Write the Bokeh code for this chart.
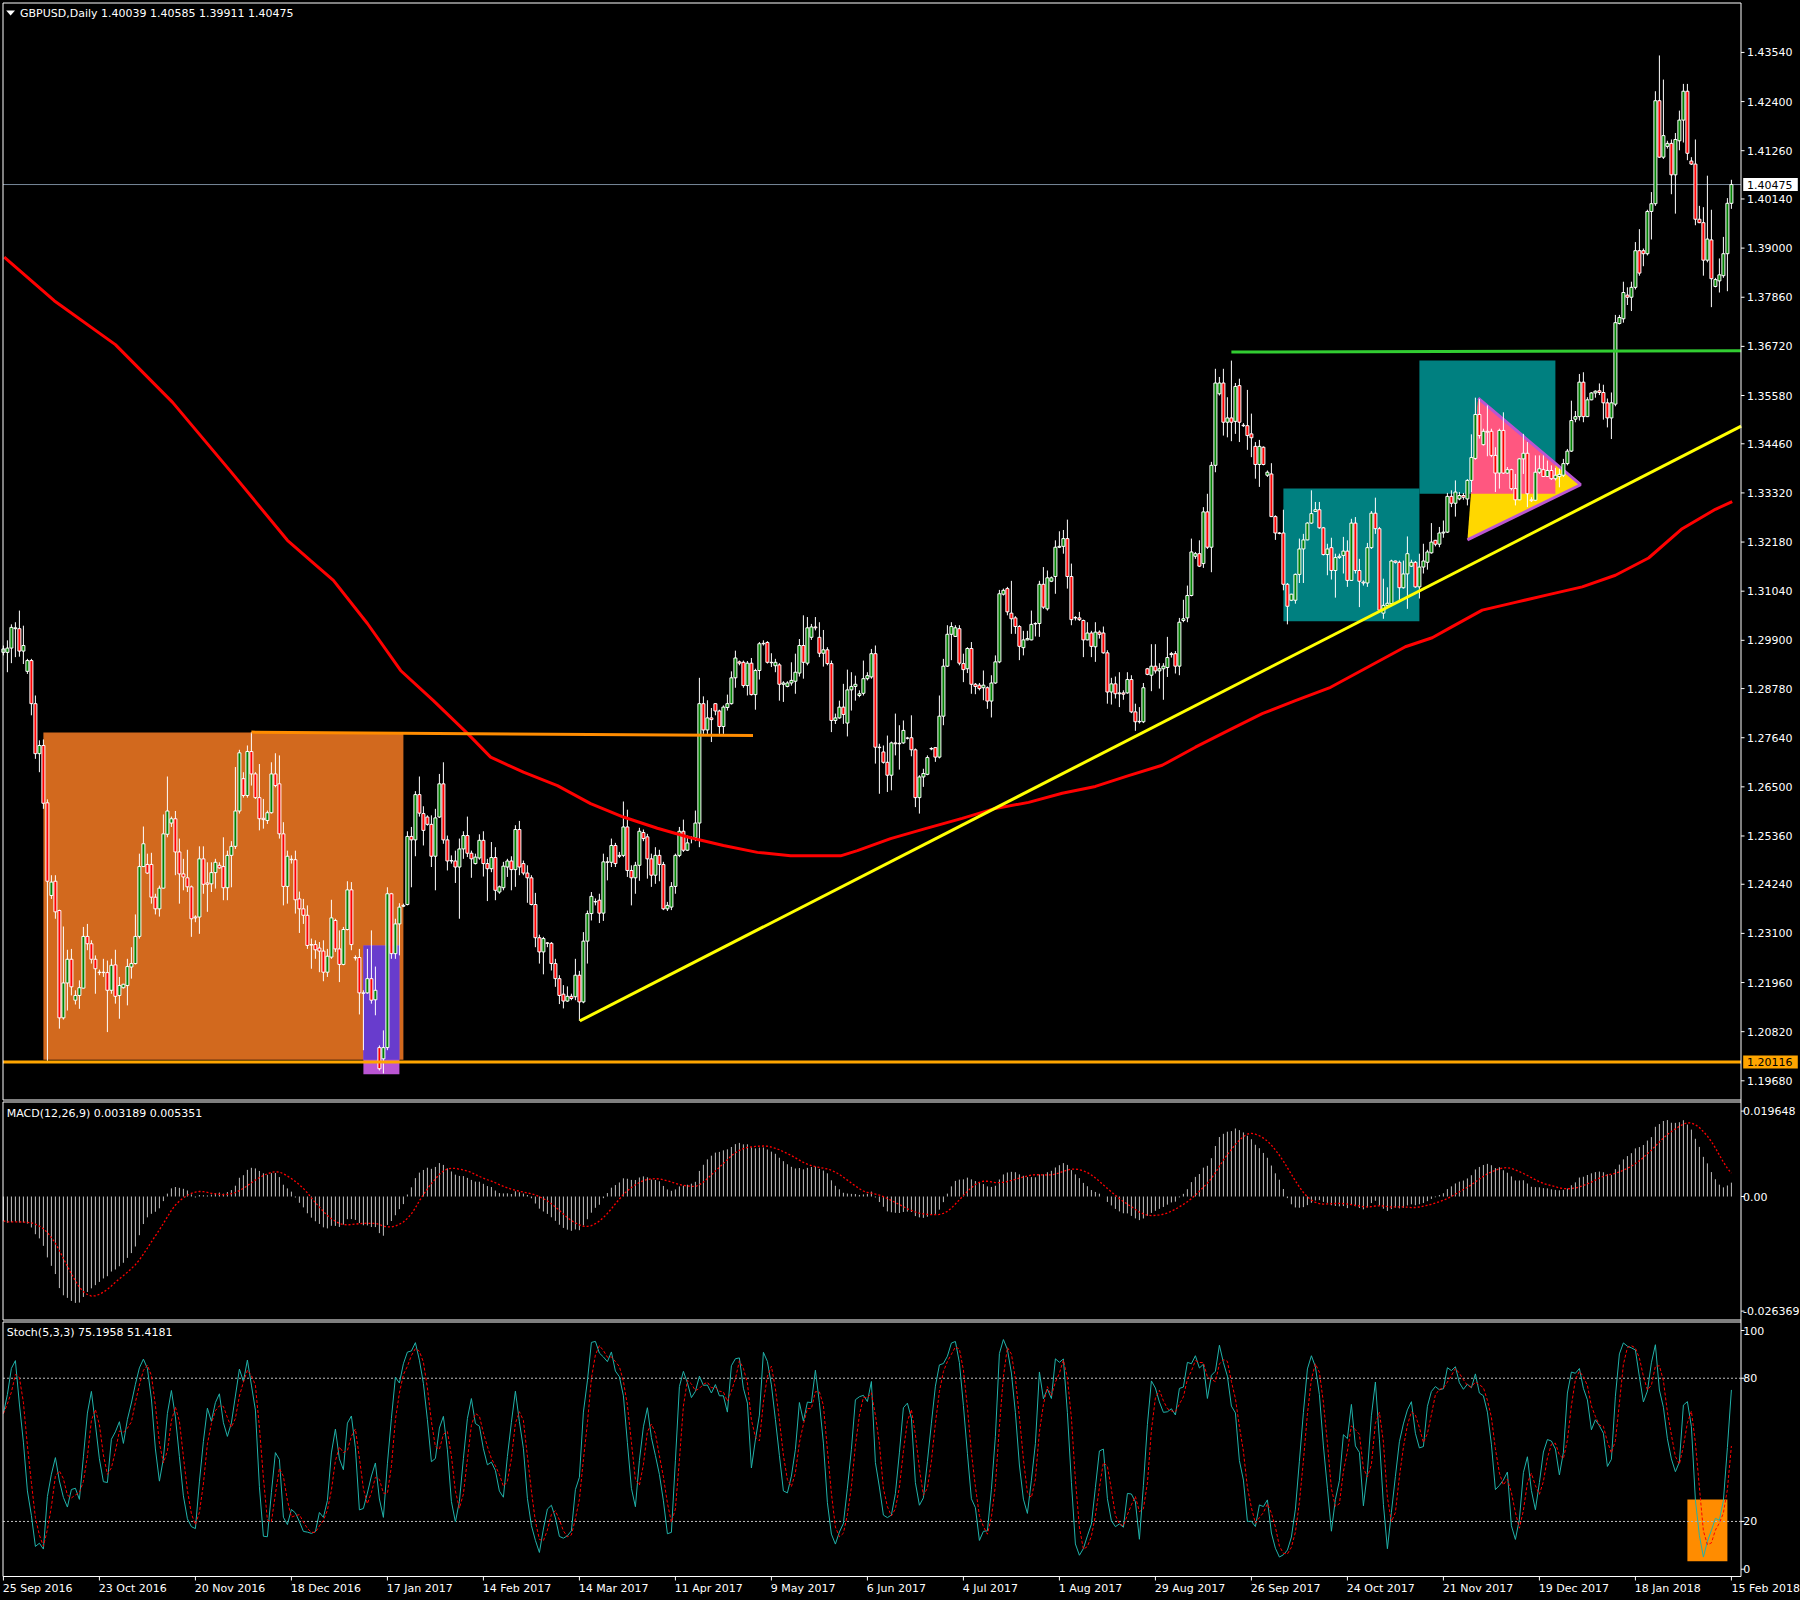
import numpy as np
from bokeh.plotting import figure
from bokeh.models import Range1d
from bokeh.core.properties import value
from bokeh.embed import file_html
from bokeh.resources import INLINE

# ---------------- daily candles (bar 0 = 25 Sep 2016, bar 432 = 15 Feb 2018) ----------------
open_ = [
1.2962,1.2962,1.2972,1.3017,1.3017,1.2965,1.2918,1.2943,1.2843,1.2727,
1.2746,1.2613,1.2398,1.2431,1.2363,1.2114,1.2195,1.2250,1.2155,1.2166,
1.2183,1.2303,1.2286,1.2250,1.2220,1.2220,1.2219,1.2178,1.2237,1.2166,
1.2184,1.2189,1.2232,1.2240,1.2303,1.2465,1.2470,1.2470,1.2394,1.2367,
1.2415,1.2540,1.2566,1.2576,1.2499,1.2448,1.2439,1.2418,1.2348,1.2348,
1.2483,1.2427,1.2425,1.2451,1.2468,1.2465,1.2416,1.2491,1.2512,1.2594,
1.2669,1.2630,1.2732,1.2680,1.2625,1.2577,1.2572,1.2590,1.2680,1.2657,
1.2541,1.2419,1.2481,1.2481,1.2390,1.2367,1.2352,1.2284,1.2284,1.2276,
1.2269,1.2220,1.2255,1.2340,1.2274,1.2238,1.2319,1.2411,1.2254,1.2254,
1.2172,1.2172,1.2205,1.2156,1.2045,1.2019,1.2045,1.2402,1.2263,1.2332,
1.2373,1.2377,1.2535,1.2527,1.2632,1.2588,1.2580,1.2563,1.2489,1.2580,
1.2657,1.2527,1.2479,1.2478,1.2464,1.2506,1.2537,1.2496,1.2472,1.2485,
1.2526,1.2472,1.2460,1.2486,1.2406,1.2416,1.2464,1.2478,1.2458,1.2551,
1.2472,1.2450,1.2439,1.2377,1.2300,1.2267,1.2288,1.2287,1.2240,1.2205,
1.2169,1.2153,1.2164,1.2163,1.2213,1.2151,1.2292,1.2356,1.2383,1.2387,
1.2357,1.2476,1.2475,1.2514,1.2489,1.2491,1.2557,1.2456,1.2439,1.2468,
1.2544,1.2534,1.2483,1.2445,1.2491,1.2470,1.2367,1.2371,1.2419,1.2491,
1.2547,1.2503,1.2530,1.2532,1.2566,1.2843,1.2782,1.2810,1.2843,1.2826,
1.2790,1.2834,1.2843,1.2903,1.2940,1.2939,1.2885,1.2937,1.2864,1.2920,
1.2982,1.2985,1.2939,1.2931,1.2933,1.2888,1.2883,1.2891,1.2895,1.2914,
1.2978,1.2937,1.2997,1.3021,1.2997,1.2960,1.2968,1.2936,1.2804,1.2810,
1.2835,1.2798,1.2875,1.2883,1.2862,1.2867,1.2901,1.2905,1.2959,1.2742,
1.2731,1.2707,1.2677,1.2752,1.2750,1.2752,1.2763,1.2764,1.2736,1.2625,
1.2673,1.2679,1.2739,1.2741,1.2719,1.2814,1.2930,1.3004,1.2999,1.3017,
1.2936,1.2924,1.2971,1.2888,1.2886,1.2880,1.2880,1.2849,1.2891,1.2940,
1.3097,1.3110,1.3053,1.3042,1.3022,1.2973,1.2991,1.2991,1.3028,1.3029,
1.3120,1.3063,1.3127,1.3138,1.3206,1.3208,1.3226,1.3138,1.3043,1.3042,
1.3036,1.2991,1.3007,1.2975,1.3009,1.3007,1.2961,1.2870,1.2889,1.2866,
1.2868,1.2868,1.2899,1.2824,1.2801,1.2801,1.2924,1.2909,1.2930,1.2919,
1.2924,1.2927,1.2957,1.2959,1.2930,1.3036,1.3042,1.3094,1.3185,1.3191,
1.3168,1.3288,1.3206,1.3396,1.3562,1.3587,1.3496,1.3506,1.3498,1.3581,
1.3489,1.3488,1.3469,1.3440,1.3398,1.3438,1.3373,1.3376,1.3277,1.3239,
1.3239,1.3120,1.3083,1.3083,1.3143,1.3202,1.3223,1.3262,1.3289,1.3293,
1.3251,1.3189,1.3205,1.3152,1.3182,1.3187,1.3197,1.3129,1.3262,1.3152,
1.3125,1.3123,1.3205,1.3285,1.3249,1.3053,1.3071,1.3075,1.3174,1.3171,
1.3112,1.3144,1.3162,1.3171,1.3114,1.3160,1.3171,1.3193,1.3222,1.3213,
1.3239,1.3241,1.3324,1.3308,1.3318,1.3326,1.3318,1.3361,1.3412,1.3514,
1.3444,1.3475,1.3475,1.3419,1.3378,1.3477,1.3378,1.3386,1.3342,1.3316,
1.3411,1.3424,1.3316,1.3315,1.3380,1.3386,1.3370,1.3384,1.3365,1.3370,
1.3373,1.3400,1.3429,1.3503,1.3509,1.3589,1.3509,1.3548,1.3564,1.3569,
1.3565,1.3541,1.3506,1.3538,1.3725,1.3736,1.3791,1.3786,1.3809,1.3894,
1.3894,1.3887,1.3985,1.4003,1.4242,1.4111,1.4136,1.4143,1.4070,1.4149,
1.4197,1.4264,1.4102,1.4095,1.3967,1.3959,1.3872,1.3919,1.3811,1.3824,
1.3836,1.3887,1.40039]

high = [
1.2978,1.2990,1.3027,1.3032,1.3059,1.3024,1.2947,1.2947,1.2862,1.2758,
1.2760,1.2621,1.2445,1.2445,1.2365,1.2326,1.2272,1.2274,1.2178,1.2201,
1.2325,1.2332,1.2294,1.2259,1.2226,1.2251,1.2247,1.2251,1.2272,1.2209,
1.2193,1.2251,1.2278,1.2354,1.2495,1.2558,1.2495,1.2497,1.2402,1.2421,
1.2586,1.2674,1.2581,1.2594,1.2530,1.2483,1.2504,1.2421,1.2352,1.2512,
1.2512,1.2475,1.2475,1.2483,1.2475,1.2533,1.2502,1.2524,1.2696,1.2736,
1.2684,1.2746,1.2777,1.2684,1.2703,1.2622,1.2595,1.2707,1.2728,1.2723,
1.2568,1.2502,1.2491,1.2502,1.2407,1.2390,1.2375,1.2298,1.2294,1.2290,
1.2294,1.2274,1.2388,1.2344,1.2317,1.2325,1.2431,1.2429,1.2259,1.2274,
1.2178,1.2274,1.2317,1.2233,1.2050,1.2085,1.2417,1.2404,1.2344,1.2380,
1.2379,1.2547,1.2557,1.2640,1.2674,1.2605,1.2584,1.2584,1.2599,1.2680,
1.2707,1.2537,1.2491,1.2502,1.2530,1.2547,1.2581,1.2502,1.2495,1.2540,
1.2547,1.2483,1.2522,1.2510,1.2421,1.2476,1.2483,1.2489,1.2561,1.2571,
1.2479,1.2468,1.2445,1.2404,1.2307,1.2302,1.2290,1.2290,1.2251,1.2213,
1.2190,1.2187,1.2170,1.2251,1.2223,1.2313,1.2363,1.2406,1.2391,1.2402,
1.2495,1.2487,1.2530,1.2520,1.2499,1.2616,1.2597,1.2468,1.2476,1.2555,
1.2551,1.2541,1.2495,1.2510,1.2504,1.2476,1.2383,1.2429,1.2495,1.2557,
1.2574,1.2537,1.2535,1.2595,1.2903,1.2860,1.2851,1.2833,1.2844,1.2829,
1.2839,1.2864,1.2918,1.2966,1.2943,1.2943,1.2942,1.2949,1.2924,1.2986,
1.2990,1.2988,1.2960,1.2947,1.2937,1.2895,1.2895,1.2939,1.2959,1.2993,
1.3048,1.3044,1.3028,1.3044,1.3032,1.3014,1.2974,1.2943,1.2820,1.2850,
1.2889,1.2922,1.2916,1.2908,1.2874,1.2943,1.2916,1.2970,1.2978,1.2750,
1.2746,1.2769,1.2755,1.2820,1.2793,1.2804,1.2766,1.2816,1.2739,1.2677,
1.2692,1.2723,1.2742,1.2742,1.2862,1.2947,1.3025,1.3032,1.3025,1.3025,
1.2959,1.2974,1.2986,1.2891,1.2891,1.2920,1.2883,1.2909,1.2955,1.3107,
1.3110,1.3114,1.3128,1.3046,1.3025,1.3012,1.3012,1.3059,1.3032,1.3128,
1.3160,1.3152,1.3138,1.3222,1.3243,1.3246,1.3270,1.3168,1.3046,1.3056,
1.3038,1.3032,1.3012,1.3032,1.3013,1.3022,1.2967,1.2903,1.2906,1.2916,
1.2874,1.2916,1.2909,1.2843,1.2835,1.2891,1.2926,1.2981,1.2981,1.2937,
1.2937,1.2998,1.2963,1.2965,1.3042,1.3084,1.3117,1.3226,1.3195,1.3222,
1.3299,1.3330,1.3404,1.3620,1.3601,1.3620,1.3554,1.3639,1.3587,1.3597,
1.3494,1.3571,1.3516,1.3450,1.3455,1.3440,1.3384,1.3401,1.3280,1.3241,
1.3293,1.3123,1.3098,1.3145,1.3226,1.3237,1.3264,1.3338,1.3311,1.3311,
1.3253,1.3214,1.3228,1.3191,1.3191,1.3230,1.3222,1.3272,1.3276,1.3179,
1.3129,1.3216,1.3290,1.3321,1.3253,1.3133,1.3113,1.3177,1.3175,1.3175,
1.3175,1.3231,1.3177,1.3174,1.3191,1.3214,1.3200,1.3262,1.3223,1.3253,
1.3268,1.3332,1.3338,1.3361,1.3334,1.3332,1.3364,1.3468,1.3553,1.3550,
1.3481,1.3535,1.3481,1.3438,1.3481,1.3519,1.3392,1.3388,1.3376,1.3413,
1.3469,1.3450,1.3322,1.3419,1.3419,1.3419,1.3407,1.3396,1.3390,1.3388,
1.3411,1.3434,1.3546,1.3522,1.3608,1.3612,1.3554,1.3566,1.3570,1.3586,
1.3583,1.3551,1.3565,1.3745,1.3745,1.3822,1.3809,1.3822,1.3914,1.3944,
1.3899,1.3989,1.4030,1.4264,1.4347,1.4291,1.4149,1.4152,1.4167,1.4219,
1.4281,1.4281,1.4111,1.4152,1.3998,1.3995,1.4068,1.3989,1.3831,1.3876,
1.3926,1.4016,1.40585]

low = [
1.2955,1.2916,1.2937,1.2951,1.2952,1.2935,1.2912,1.2816,1.2715,1.2684,
1.2599,1.2012,1.2390,1.2344,1.2089,1.2110,1.2131,1.2166,1.2145,1.2135,
1.2182,1.2271,1.2240,1.2170,1.2213,1.2209,1.2081,1.2170,1.2147,1.2112,
1.2182,1.2143,1.2205,1.2238,1.2298,1.2464,1.2448,1.2379,1.2354,1.2349,
1.2414,1.2533,1.2557,1.2445,1.2379,1.2410,1.2406,1.2302,1.2336,1.2309,
1.2402,1.2360,1.2406,1.2414,1.2460,1.2387,1.2387,1.2417,1.2506,1.2588,
1.2625,1.2625,1.2653,1.2622,1.2549,1.2553,1.2564,1.2588,1.2649,1.2530,
1.2375,1.2379,1.2472,1.2356,1.2311,1.2332,1.2274,1.2228,1.2251,1.2220,
1.2199,1.2209,1.2251,1.2267,1.2197,1.2236,1.2317,1.2271,1.2247,1.2122,
1.2039,1.2170,1.2147,1.2120,1.1992,1.1985,1.2039,1.2251,1.2251,1.2259,
1.2371,1.2375,1.2417,1.2489,1.2581,1.2514,1.2560,1.2464,1.2410,1.2578,
1.2518,1.2456,1.2472,1.2427,1.2344,1.2483,1.2487,1.2439,1.2470,1.2481,
1.2442,1.2385,1.2452,1.2387,1.2402,1.2410,1.2441,1.2410,1.2418,1.2445,
1.2445,1.2381,1.2375,1.2278,1.2240,1.2215,1.2278,1.2224,1.2186,1.2146,
1.2136,1.2151,1.2155,1.2155,1.2107,1.2148,1.2240,1.2340,1.2375,1.2334,
1.2339,1.2433,1.2464,1.2464,1.2485,1.2487,1.2441,1.2375,1.2402,1.2432,
1.2524,1.2437,1.2418,1.2425,1.2431,1.2364,1.2362,1.2364,1.2402,1.2487,
1.2499,1.2501,1.2519,1.2524,1.2510,1.2773,1.2773,1.2754,1.2816,1.2773,
1.2773,1.2827,1.2841,1.2880,1.2932,1.2880,1.2862,1.2862,1.2829,1.2899,
1.2978,1.2936,1.2928,1.2916,1.2850,1.2847,1.2881,1.2885,1.2866,1.2906,
1.2901,1.2932,1.2991,1.3013,1.2951,1.2929,1.2932,1.2777,1.2796,1.2808,
1.2796,1.2767,1.2827,1.2850,1.2858,1.2862,1.2897,1.2901,1.2704,1.2634,
1.2704,1.2638,1.2642,1.2723,1.2690,1.2750,1.2760,1.2721,1.2603,1.2588,
1.2650,1.2677,1.2735,1.2708,1.2716,1.2793,1.2928,1.2944,1.2998,1.2932,
1.2893,1.2914,1.2866,1.2865,1.2874,1.2851,1.2831,1.2811,1.2889,1.2937,
1.3094,1.3048,1.3005,1.3005,1.2944,1.2955,1.2990,1.2990,1.2999,1.2998,
1.3063,1.3059,1.3125,1.3098,1.3204,1.3191,1.3110,1.3025,1.3036,1.3035,
1.2951,1.2990,1.2951,1.2940,1.2994,1.2959,1.2843,1.2841,1.2855,1.2835,
1.2852,1.2866,1.2821,1.2780,1.2797,1.2798,1.2909,1.2872,1.2913,1.2878,
1.2852,1.2905,1.2950,1.2913,1.2909,1.3032,1.3032,1.3092,1.3179,1.3160,
1.3158,1.3202,1.3148,1.3380,1.3558,1.3465,1.3461,1.3452,1.3469,1.3450,
1.3485,1.3432,1.3415,1.3365,1.3346,1.3396,1.3369,1.3276,1.3223,1.3236,
1.3106,1.3027,1.3081,1.3075,1.3123,1.3123,1.3222,1.3260,1.3288,1.3249,
1.3187,1.3141,1.3131,1.3089,1.3179,1.3145,1.3114,1.3128,1.3145,1.3067,
1.3117,1.3114,1.3202,1.3237,1.3056,1.3040,1.3067,1.3073,1.3168,1.3083,
1.3110,1.3063,1.3160,1.3112,1.3087,1.3145,1.3154,1.3191,1.3208,1.3206,
1.3228,1.3239,1.3299,1.3277,1.3315,1.3316,1.3303,1.3334,1.3409,1.3458,
1.3442,1.3417,1.3415,1.3334,1.3342,1.3376,1.3376,1.3338,1.3303,1.3315,
1.3376,1.3299,1.3311,1.3313,1.3376,1.3369,1.3369,1.3362,1.3361,1.3345,
1.3369,1.3396,1.3427,1.3496,1.3500,1.3496,1.3508,1.3547,1.3553,1.3559,
1.3502,1.3484,1.3457,1.3533,1.3723,1.3727,1.3768,1.3754,1.3804,1.3836,
1.3858,1.3883,1.3920,1.3998,1.4109,1.4107,1.4131,1.4025,1.3980,1.4127,
1.4145,1.4104,1.4093,1.3953,1.3958,1.3836,1.3867,1.3763,1.3809,1.3797,
1.3831,1.3800,1.39911]

close = [
1.2970,1.2972,1.3020,1.3019,1.2965,1.2978,1.2943,1.2843,1.2727,1.2746,
1.2612,1.2431,1.2429,1.2360,1.2114,1.2195,1.2250,1.2186,1.2166,1.2184,
1.2303,1.2286,1.2250,1.2228,1.2219,1.2219,1.2178,1.2236,1.2164,1.2189,
1.2192,1.2233,1.2240,1.2303,1.2465,1.2518,1.2450,1.2394,1.2367,1.2415,
1.2541,1.2594,1.2576,1.2499,1.2448,1.2441,1.2418,1.2344,1.2346,1.2483,
1.2424,1.2424,1.2451,1.2475,1.2462,1.2416,1.2491,1.2512,1.2594,1.2729,
1.2630,1.2732,1.2680,1.2625,1.2576,1.2574,1.2590,1.2680,1.2653,1.2541,
1.2419,1.2489,1.2482,1.2388,1.2367,1.2352,1.2282,1.2283,1.2272,1.2269,
1.2220,1.2257,1.2346,1.2274,1.2238,1.2319,1.2411,1.2284,1.2253,1.2172,
1.2171,1.2205,1.2155,1.2178,1.1996,1.2045,1.2402,1.2263,1.2332,1.2371,
1.2375,1.2535,1.2527,1.2632,1.2589,1.2549,1.2563,1.2489,1.2578,1.2657,
1.2527,1.2478,1.2478,1.2464,1.2506,1.2537,1.2496,1.2483,1.2487,1.2526,
1.2472,1.2460,1.2486,1.2410,1.2418,1.2466,1.2478,1.2458,1.2551,1.2464,
1.2450,1.2439,1.2377,1.2300,1.2267,1.2298,1.2287,1.2240,1.2205,1.2166,
1.2153,1.2164,1.2159,1.2213,1.2151,1.2292,1.2356,1.2396,1.2384,1.2357,
1.2476,1.2475,1.2514,1.2472,1.2491,1.2557,1.2456,1.2439,1.2468,1.2547,
1.2530,1.2483,1.2445,1.2491,1.2470,1.2367,1.2375,1.2419,1.2491,1.2547,
1.2503,1.2520,1.2532,1.2566,1.2843,1.2782,1.2810,1.2806,1.2826,1.2790,
1.2835,1.2843,1.2903,1.2949,1.2937,1.2885,1.2937,1.2864,1.2920,1.2982,
1.2983,1.2939,1.2938,1.2939,1.2888,1.2891,1.2891,1.2897,1.2916,1.2978,
1.2939,1.3019,1.3021,1.3019,1.2960,1.2968,1.2936,1.2804,1.2810,1.2835,
1.2818,1.2875,1.2883,1.2888,1.2866,1.2901,1.2908,1.2959,1.2742,1.2741,
1.2707,1.2677,1.2752,1.2750,1.2751,1.2781,1.2763,1.2736,1.2625,1.2673,
1.2681,1.2718,1.2738,1.2719,1.2814,1.2930,1.3004,1.3022,1.3019,1.2937,
1.2922,1.2971,1.2888,1.2883,1.2878,1.2886,1.2849,1.2891,1.2940,1.3098,
1.3106,1.3056,1.3040,1.3022,1.2976,1.2991,1.2994,1.3027,1.3029,1.3120,
1.3067,1.3135,1.3135,1.3206,1.3208,1.3226,1.3138,1.3038,1.3042,1.3038,
1.2991,1.3007,1.2976,1.3009,1.3004,1.2961,1.2870,1.2889,1.2866,1.2868,
1.2865,1.2899,1.2824,1.2801,1.2802,1.2880,1.2911,1.2930,1.2919,1.2924,
1.2930,1.2950,1.2959,1.2930,1.3032,1.3040,1.3094,1.3195,1.3191,1.3162,
1.3288,1.3206,1.3396,1.3587,1.3587,1.3496,1.3506,1.3496,1.3579,1.3496,
1.3488,1.3465,1.3460,1.3398,1.3440,1.3398,1.3380,1.3277,1.3239,1.3238,
1.3120,1.3069,1.3097,1.3143,1.3202,1.3223,1.3262,1.3284,1.3293,1.3251,
1.3189,1.3202,1.3152,1.3182,1.3185,1.3197,1.3129,1.3262,1.3152,1.3127,
1.3123,1.3205,1.3285,1.3249,1.3060,1.3071,1.3076,1.3174,1.3171,1.3112,
1.3144,1.3191,1.3171,1.3114,1.3160,1.3174,1.3195,1.3218,1.3213,1.3239,
1.3241,1.3324,1.3308,1.3334,1.3326,1.3322,1.3361,1.3414,1.3514,1.3465,
1.3475,1.3473,1.3419,1.3378,1.3477,1.3378,1.3386,1.3342,1.3316,1.3411,
1.3424,1.3330,1.3314,1.3380,1.3388,1.3370,1.3384,1.3365,1.3373,1.3375,
1.3400,1.3429,1.3500,1.3509,1.3589,1.3509,1.3548,1.3564,1.3568,1.3565,
1.3541,1.3506,1.3541,1.3727,1.3739,1.3797,1.3786,1.3809,1.3894,1.3842,
1.3887,1.3985,1.4003,1.4242,1.4111,1.4161,1.4143,1.4070,1.4152,1.4197,
1.4264,1.4120,1.4095,1.3967,1.3959,1.3872,1.3921,1.3829,1.3827,1.3838,
1.3887,1.4004,1.40475]

# 200-day moving average (bar position, value)
ma_bar = [0.2, 12.7, 28, 42.3, 56.8, 71, 76.8, 82.5, 91, 99.3, 107.5, 116, 121.8, 130, 138.5,
          146.8, 155, 163.5, 171.8, 180, 188.5, 196.8, 209.3, 213.5, 221.8, 230.5, 239.7, 248,
          256.3, 264.7, 273, 281.3, 289.7, 298, 306.3, 314.7, 323, 331.8, 350.5, 357.2, 361.3,
          369.7, 378, 386.3, 394.7, 403, 411.3, 419.7, 428, 432.2]
ma_val = [1.3879, 1.3778, 1.3676, 1.3542, 1.3382, 1.3222, 1.3175, 1.3129, 1.3029, 1.2920, 1.2850,
          1.2774, 1.2719, 1.2684, 1.2653, 1.2611, 1.2580, 1.2554, 1.2532, 1.2514, 1.2498, 1.2490,
          1.2490, 1.2502, 1.2530, 1.2553, 1.2577, 1.2600, 1.2614, 1.2635, 1.2651, 1.2676, 1.2700,
          1.2742, 1.2781, 1.2820, 1.2850, 1.2881, 1.2975, 1.2996, 1.3017, 1.3060, 1.3078, 1.3096,
          1.3114, 1.3141, 1.3181, 1.3249, 1.3294, 1.3312]

# drawn objects (bar position, price)
orange_box = [10, 100, 1.2017, 1.2776]          # left, right, bottom, top
violet_box = [90, 99, 1.1983, 1.2282]
teal_box1 = [320, 354, 1.3034, 1.3342]
teal_box2 = [354, 388, 1.3330, 1.3639]
triangle_bar = [368.7, 394.3, 366.0]
triangle_price = [1.3552, 1.3351, 1.3223]
orange_trend_bar = [62, 187.4]
orange_trend_price = [1.2777, 1.2769]
yellow_trend_bar = [144.1, 434.45]
yellow_trend_price = [1.2107, 1.3487]
green_trend_bar = [307, 434.45]
green_trend_price = [1.3659, 1.3662]
support_level = 1.20116
bid_level = 1.40475
stoch_box = [421, 431, 3.35, 29.2]

# MACD(12,26,9) starting EMA states
ema_fast_start = 1.3095
ema_slow_start = 1.3145

# scale texts
price_ticks = [1.43540, 1.42400, 1.41260, 1.40140, 1.39000, 1.37860, 1.36720, 1.35580, 1.34460,
               1.33320, 1.32180, 1.31040, 1.29900, 1.28780, 1.27640, 1.26500, 1.25360, 1.24240,
               1.23100, 1.21960, 1.20820, 1.19680]
macd_ticks = [0.019648, 0.0, -0.026369]
macd_tick_labels = ["0.019648", "0.00", "-0.026369"]
stoch_ticks = [100, 80, 20, 0]
stoch_tick_labels = ["100", "80", "20", "0"]
date_ticks = list(range(0, 433, 24))
date_labels = ["25 Sep 2016", "23 Oct 2016", "20 Nov 2016", "18 Dec 2016", "17 Jan 2017",
               "14 Feb 2017", "14 Mar 2017", "11 Apr 2017", "9 May 2017", "6 Jun 2017",
               "4 Jul 2017", "1 Aug 2017", "29 Aug 2017", "26 Sep 2017", "24 Oct 2017",
               "21 Nov 2017", "19 Dec 2017", "18 Jan 2018", "15 Feb 2018"]
main_title = "GBPUSD,Daily  1.40039 1.40585 1.39911 1.40475"
macd_title = "MACD(12,26,9) 0.003189 0.005351"
stoch_title = "Stoch(5,3,3) 75.1958 51.4181"

# ---------------- indicators ----------------
o = np.array(open_); h = np.array(high); l = np.array(low); c = np.array(close)
n = len(c)
bars = np.arange(n)

def ema(vals, period, start):
    a = 2.0 / (period + 1); e = start; out = []
    for v in vals:
        e += a * (v - e)
        out.append(e)
    return np.array(out)

macd = ema(c, 12, ema_fast_start) - ema(c, 26, ema_slow_start)
signal = np.array([macd[max(0, i - 8):i + 1].mean() for i in range(n)])

num = np.zeros(n); den = np.zeros(n)
for i in range(n):
    lo = l[max(0, i - 4):i + 1].min(); hi = h[max(0, i - 4):i + 1].max()
    num[i] = c[i] - lo; den[i] = hi - lo
stoch_k = np.array([100 * num[max(0, i - 2):i + 1].sum() / den[max(0, i - 2):i + 1].sum() for i in range(n)])
stoch_d = np.array([stoch_k[max(0, i - 2):i + 1].mean() for i in range(n)])

# ---------------- geometry helpers ----------------
def rect_overlap(a, b):
    return [max(a[0], b[0]), min(a[1], b[1]), max(a[2], b[2]), min(a[3], b[3])]

def clip_poly(xs, ys, box):
    x0, x1, y0, y1 = box
    pts = list(zip(xs, ys))
    def clip(pts, inside, inter):
        out = []
        for i in range(len(pts)):
            cur, prev = pts[i], pts[i - 1]
            if inside(cur):
                if not inside(prev):
                    out.append(inter(prev, cur))
                out.append(cur)
            elif inside(prev):
                out.append(inter(prev, cur))
        return out
    ix = lambda xv: (lambda a, b: (xv, a[1] + (b[1] - a[1]) * (xv - a[0]) / (b[0] - a[0])))
    iy = lambda yv: (lambda a, b: (a[0] + (b[0] - a[0]) * (yv - a[1]) / (b[1] - a[1]), yv))
    pts = clip(pts, lambda p: p[0] >= x0, ix(x0))
    pts = clip(pts, lambda p: p[0] <= x1, ix(x1))
    pts = clip(pts, lambda p: p[1] >= y0, iy(y0))
    pts = clip(pts, lambda p: p[1] <= y1, iy(y1))
    return [p[0] for p in pts], [p[1] for p in pts]

# ---------------- canvas layout: one frame, pixel geometry of the terminal window ----------------
FONT = "DejaVu Sans"
FIG_W, FIG_H = 1800, 1594
BAR0_PX, BAR_PX = 2.9, 4.0            # x pixel of bar 0, pixels per bar
AXIS_PX = 1740.5                      # right price-scale line
LEFT_PX = 2.5                         # left panel border
MAIN_TOP, MAIN_BOT = 2.5, 1099.5
MACD_TOP, MACD_BOT = 1101.5, 1319.5
STO_TOP, STO_BOT = 1321.5, 1576.0
PRICE_ROW, PRICE_AT_ROW, PX_PER_PRICE = 1080.3, 1.1968, 4310.0
MACD_ZERO_ROW, PX_PER_MACD = 1196.0, 4346.2
STO_ZERO_ROW, PX_PER_STO = 1568.7, 2.387

def colx(px):
    return (px - BAR0_PX) / BAR_PX

def row(r):
    return PRICE_AT_ROW + (PRICE_ROW - r) / PX_PER_PRICE

p = figure(width=FIG_W, height=FIG_H, x_range=Range1d(colx(0), colx(FIG_W)),
           y_range=Range1d(row(FIG_H), row(0)), output_backend="svg", toolbar_location=None,
           x_axis_location=None, y_axis_location=None,
           min_border=0, min_border_left=0, min_border_right=0, min_border_top=0, min_border_bottom=0)
p.extra_y_ranges = {
    "macd": Range1d((MACD_ZERO_ROW - FIG_H) / PX_PER_MACD, MACD_ZERO_ROW / PX_PER_MACD),
    "sto": Range1d((STO_ZERO_ROW - FIG_H) / PX_PER_STO, STO_ZERO_ROW / PX_PER_STO)}
p.background_fill_color = "black"
p.border_fill_color = "black"
p.outline_line_color = None
p.xgrid.visible = False
p.ygrid.visible = False

def texts(xs, ys, labels, color="white", align="left", size="11px", yr=None):
    kw = {} if yr is None else {"y_range_name": yr}
    p.text(x=xs, y=ys, text=labels, text_color=color, text_align=align, text_baseline="middle",
           text_font=value(FONT), text_font_size=value(size), **kw)

def quad(box, color, yr=None):
    kw = {} if yr is None else {"y_range_name": yr}
    p.quad(left=[box[0]], right=[box[1]], bottom=[box[2]], top=[box[3]],
           fill_color=color, line_color=None, **kw)

X_LEFT, X_AXIS = colx(LEFT_PX), colx(AXIS_PX)

# ---- main panel: background objects ----
quad(orange_box, "#D2691E")
quad(violet_box, "#BA55D3")
quad(rect_overlap(orange_box, violet_box), "#683CCD")
quad(teal_box1, "#008080")
quad(teal_box2, "#008080")
p.patch(triangle_bar, triangle_price, fill_color="#FFD700", line_color=None)
px, py = clip_poly(triangle_bar, triangle_price, teal_box2)
p.patch(px, py, fill_color="#FF5780", line_color=None)
p.line(triangle_bar, triangle_price, line_color="#BA55D3", line_width=3)

p.line([X_LEFT, X_AXIS], [bid_level, bid_level], line_color="#778899", line_width=1)

# ---- candles ----
up = c >= o
body_top = np.maximum(o, c); body_bot = np.minimum(o, c)
fills = np.where(up, "#008000", "#FF0000")
p.segment(x0=bars, y0=l, x1=bars, y1=h, line_color="white", line_width=1)
p.vbar(x=bars, width=0.75, top=body_top, bottom=body_bot, fill_color=fills,
       line_color="white", line_width=1)

# ---- indicator & drawn lines ----
p.line(ma_bar, ma_val, line_color="#FF0000", line_width=3)
p.line(orange_trend_bar, orange_trend_price, line_color="#FF8C00", line_width=3)
p.line(yellow_trend_bar, yellow_trend_price, line_color="#FFFF00", line_width=3)
p.line(green_trend_bar, green_trend_price, line_color="#32CD32", line_width=3)
p.line([X_LEFT, X_AXIS], [support_level, support_level], line_color="#FFA500", line_width=3)

# ---- MACD panel ----
p.segment(x0=bars, y0=np.zeros(n), x1=bars, y1=macd, line_color="#C0C0C0", line_width=1,
          y_range_name="macd")
p.line(bars, signal, line_color="#FF0000", line_width=1.3, line_dash="2 2", y_range_name="macd")

# ---- Stochastic panel ----
quad(stoch_box, "#FF8C00", yr="sto")
for lv in (20, 80):
    p.line([X_LEFT, X_AXIS], [lv, lv], line_color="#C0C0C0", line_dash="2 2", line_width=1,
           y_range_name="sto")
p.line(bars, stoch_k, line_color="#20B2AA", line_width=1, y_range_name="sto")
p.line(bars, stoch_d, line_color="#FF0000", line_width=1, line_dash="3 2", y_range_name="sto")

# ---- panel frames and right scale ----
hrows = [MAIN_TOP, MAIN_BOT, MACD_TOP, MACD_BOT, STO_TOP, STO_BOT]
p.segment(x0=[X_LEFT] * 6, x1=[X_AXIS] * 6, y0=[row(r) for r in hrows],
          y1=[row(r) for r in hrows], line_color="white", line_width=1)
vtops = [MAIN_TOP, MACD_TOP, STO_TOP]; vbots = [MAIN_BOT, MACD_BOT, STO_BOT]
p.segment(x0=[X_LEFT] * 3, x1=[X_LEFT] * 3, y0=[row(r) for r in vtops],
          y1=[row(r) for r in vbots], line_color="white", line_width=1)
p.segment(x0=[X_AXIS], x1=[X_AXIS], y0=[row(MAIN_TOP)], y1=[row(STO_BOT)],
          line_color="white", line_width=1)

tick_x0, tick_x1 = X_AXIS, colx(AXIS_PX + 3.5)
p.segment(x0=[tick_x0] * len(price_ticks), x1=[tick_x1] * len(price_ticks), y0=price_ticks,
          y1=price_ticks, line_color="white", line_width=1)
p.segment(x0=[tick_x0] * 3, x1=[tick_x1] * 3, y0=macd_ticks, y1=macd_ticks,
          line_color="white", line_width=1, y_range_name="macd")
p.segment(x0=[tick_x0] * 4, x1=[tick_x1] * 4, y0=stoch_ticks, y1=stoch_ticks,
          line_color="white", line_width=1, y_range_name="sto")
p.segment(x0=date_ticks, x1=date_ticks, y0=[row(STO_BOT)] * len(date_ticks),
          y1=[row(STO_BOT + 4)] * len(date_ticks), line_color="white", line_width=1)

texts([colx(1746.5)] * len(price_ticks), price_ticks, ["%.5f" % t for t in price_ticks])
texts([colx(1742.5)] * 3, macd_ticks, macd_tick_labels, yr="macd")
texts([colx(1742.8)] * 4, stoch_ticks, stoch_tick_labels, yr="sto")

# current bid and support price boxes on the scale
for lvl, bg in ((bid_level, "#FFFFFF"), (support_level, "#FFA500")):
    p.quad(left=[colx(1742.7)], right=[colx(1797.3)], bottom=[lvl - 6.5 / PX_PER_PRICE],
           top=[lvl + 6.5 / PX_PER_PRICE], fill_color=bg, line_color=None)
    texts([colx(1746.5)], [lvl], ["%.5f" % lvl], color="black")

# ---- date scale ----
texts([t - 0.15 for t in date_ticks[:-1]], [row(1587.5)] * (len(date_ticks) - 1), date_labels[:-1])
texts([colx(1799.5)], [row(1587.5)], [date_labels[-1]], align="right")

# ---- panel captions ----
p.patch([colx(5.7), colx(14.5), colx(10.1)], [row(10), row(10), row(15)], fill_color="white",
        line_color=None)
texts([colx(19.5)], [row(12.5)], [main_title])
texts([colx(6.3)], [row(1112.8)], [macd_title])
texts([colx(6.3)], [row(1331.5)], [stoch_title])

open("out.html", "w").write(
    file_html(p, INLINE, title="GBPUSD,Daily").replace(
        "<head>", "<head><style>html, body { background-color: #000000; }</style>", 1))
